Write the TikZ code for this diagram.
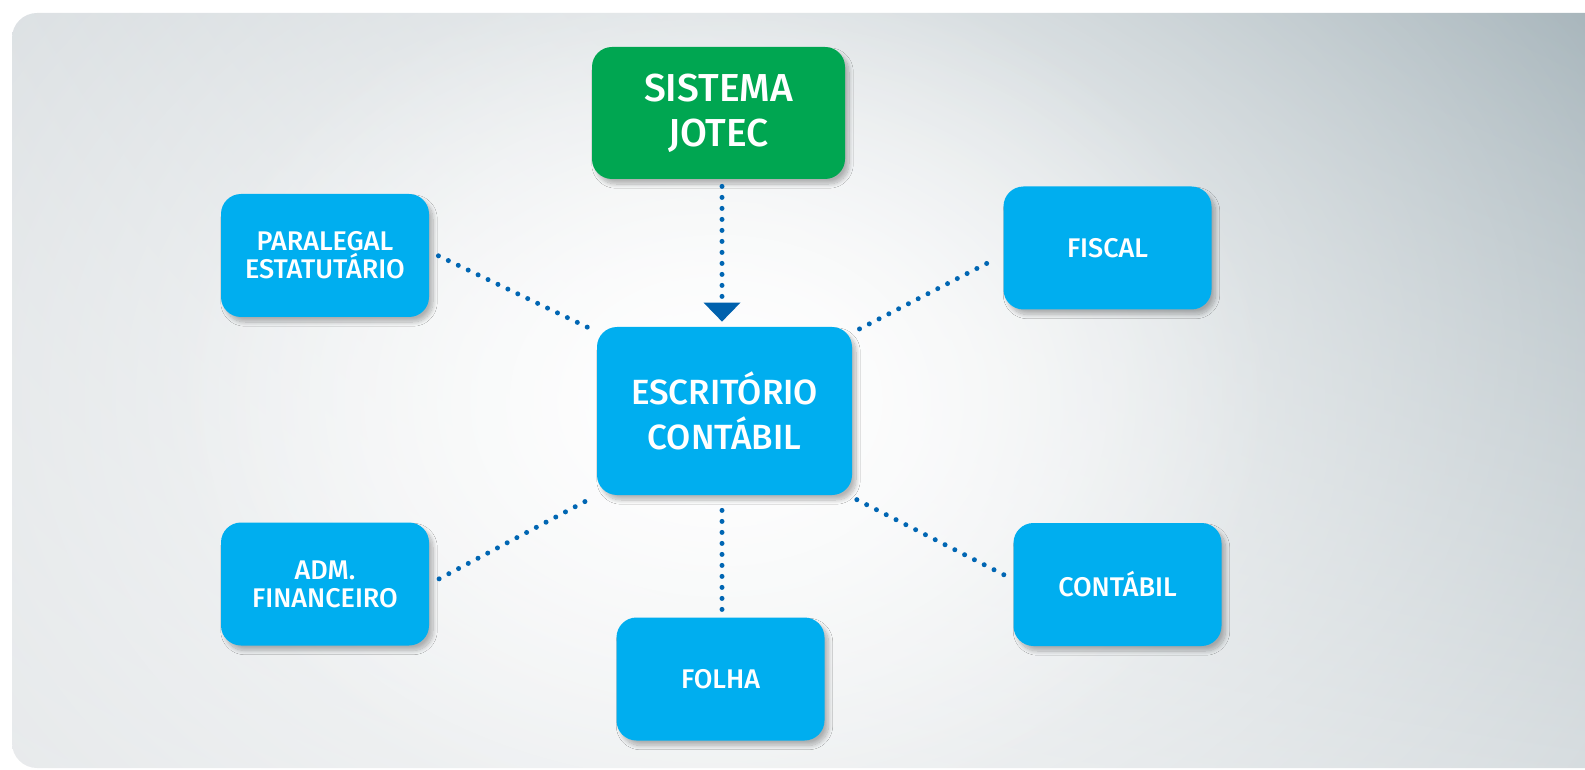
\documentclass[tikz,border=0pt]{standalone}
\usepackage{fontspec}
\setmainfont{Fira Sans}[BoldFont={Fira Sans Medium}]
\usetikzlibrary{arrows.meta,shadows.blur,fadings,shadings}

\definecolor{jgreen}{HTML}{00A651}
\definecolor{jblue}{HTML}{00AEEF}
\definecolor{jdot}{HTML}{0066B3}
\definecolor{jarrow}{HTML}{0061AD}
\definecolor{bgul}{HTML}{D8DDE0}
\definecolor{bgur}{HTML}{A7B5BB}
\definecolor{bgll}{HTML}{E4E7E9}
\definecolor{bglr}{HTML}{D6DCDF}

\tikzfading[name=glow, inner color=transparent!0, outer color=transparent!100]

\begin{document}
\begin{tikzpicture}[
        x=0.5pt, y=-0.5pt,
        box/.style={fill=jblue, rounded corners=10pt, align=center, text=white,
                    font=\fontsize{13.5}{14}\selectfont\bfseries, inner sep=2pt,
                    minimum width=104pt, minimum height=61.5pt,
                    blur shadow={shadow xshift=2pt, shadow yshift=-2.5pt,
                                 shadow blur steps=12, shadow blur extra rounding=2pt,
                                 shadow opacity=28}},
        big/.style={box, font=\fontsize{17.5}{22.5}\selectfont\bfseries,
                    minimum width=127.5pt, minimum height=84pt},
        link/.style={draw=jdot, line width=2.5pt, line cap=round,
                     dash pattern=on 0pt off 5.5pt}]

    \useasboundingbox (0,0) rectangle (1585,770);

    % --- fundo
    \begin{scope}
        \clip (0,0) rectangle (1585,770);
        \shade[upper left=bgul, upper right=bgur, lower left=bgll, lower right=bglr,
               rounded corners=12.5pt] (12,13) rectangle (1640,768);
        \fill[white, path fading=glow] (720,400) ellipse [x radius=1000, y radius=760];
        \fill[white, path fading=glow, fill opacity=0.8] (720,400) ellipse [x radius=560, y radius=440];
    \end{scope}

    \node[big, fill=jgreen, minimum width=126.5pt, minimum height=66pt,
          font=\fontsize{19.5}{22.5}\selectfont\bfseries]
                      (sis) at (718.5,113)  {SISTEMA\\JOTEC};
    \node[big]        (esc) at (724.5,411)  {ESCRITÓRIO\\CONTÁBIL};
    \node[box]        (pl)  at (325,255.5)  {PARALEGAL\\ESTATUTÁRIO};
    \node[box]        (fis) at (1107.5,248) {FISCAL};
    \node[box]        (adm) at (325,584)    {ADM.\\FINANCEIRO};
    \node[box]        (con) at (1117.5,584.5) {CONTÁBIL};
    \node[box]        (fol) at (720.5,679)  {FOLHA};

    \coordinate (ax) at (722,0);

    % --- ligações
    \draw[link, shorten <=3.5pt, shorten >=2.5pt,
          -{Triangle[width=18.5pt, length=9.5pt, line width=0pt, color=jarrow]}]
          (sis.south -| ax) -- (esc.north -| ax);
    \draw[link, shorten <=5pt, shorten >=3.5pt]
          ([yshift=2pt]pl.east) -- ([yshift=-2.5pt]esc.north west);
    \draw[link, shorten <=4pt, shorten >=6.5pt]
          ([yshift=-3pt]esc.north east) -- ([yshift=-3.5pt]fis.west);
    \draw[link, shorten <=5.5pt, shorten >=2.5pt]
          (adm.east) -- (esc.south west);
    \draw[link, shorten <=2.5pt, shorten >=4.5pt]
          ([yshift=-1pt]esc.south east) -- ([yshift=2.5pt]con.west);
    \draw[link, shorten <=7.5pt, shorten >=3.5pt]
          (esc.south -| ax) -- (fol.north -| ax);

\end{tikzpicture}
\end{document}
